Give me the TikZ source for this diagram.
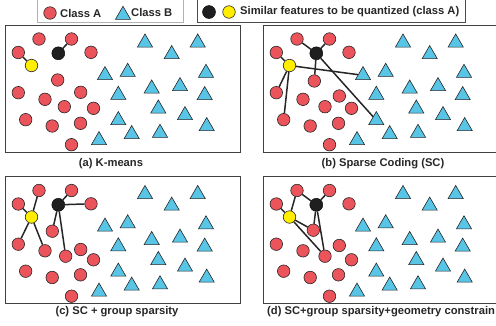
\documentclass[tikz,border=0pt]{standalone}
\usepackage{fontspec}
\setmainfont{Liberation Sans}
\usetikzlibrary{shapes.geometric}
\usepackage{xcolor}

\definecolor{classA}{RGB}{236,84,92}
\definecolor{classB}{RGB}{88,196,230}
\definecolor{quantY}{RGB}{255,238,0}

\tikzset{
  redpt/.style={circle,draw=black!85,fill=classA,minimum size=12.5pt,inner sep=0pt,line width=0.6pt},
  bluept/.style={regular polygon,regular polygon sides=3,draw=black!85,fill=classB,minimum size=17.5pt,inner sep=0pt,line width=0.6pt,yshift=-2pt},
  blackpt/.style={circle,draw=black,fill=black!88,minimum size=13pt,inner sep=0pt},
  yellowpt/.style={circle,draw=black!85,fill=quantY,minimum size=12.5pt,inner sep=0pt,line width=0.6pt},
  link/.style={line width=1.5pt,black!85},
  panel/.style={draw=black!75,line width=0.9pt},
  caption/.style={font=\bfseries\fontsize{11.2}{13}\selectfont,text=black!85}
}

\begin{document}
\begin{tikzpicture}[x=1pt,y=-1pt]
\useasboundingbox (0,0) rectangle (496,325);

% legend
\draw[black!30,line width=0.8pt] (37,-3) rectangle (183,22);
\draw[black!70,line width=0.9pt] (197,-3) rectangle (465,22);
\node[redpt] (legA) at (50,13) {};
\node[caption,right,inner sep=1pt] (legAtxt) at (59,13) {Class A};
\node[bluept] (legB) at (123,13) {};
\node[caption,right,inner sep=1pt] (legBtxt) at (130,12.5) {Class B};
\node[blackpt] (legK) at (209,12) {};
\node[yellowpt] (legY) at (229,12) {};
\node[caption,right,inner sep=1pt] (legQtxt) at (239,12) {Similar features to be quantized (class A)};

% the four panels share the same points
\foreach \pn/\dx/\dy in {a/0/0,b/258/0,c/0/151.5,d/258/151.5}{
  \begin{scope}[shift={(\dx,\dy)}]
    \draw[panel] (5,25) rectangle (240,152);
    \foreach \x/\y/\i in {39/39/1,71.5/39/2,18.3/52.5/3,91/52.3/4,18.3/92.7/6,45/99.3/7,
                          93.5/108.3/10,25.7/119.7/11,52.2/126/12,80.5/123.3/13,71.5/144.7/14}
      \node[redpt] (\pn-r\i) at (\x,\y) {};
    \foreach \x/\y [count=\i] in {145/40.7,197.7/40.7,171.7/52.3,105/73.3,127.7/70,206/71,
                                  151.7/86.7,180/84.3,118.3/93,204.7/93.3,158.3/106.7,185/113.3,
                                  118.3/118.3,206.7/124.3,131.7/132.3,160/131,99/138.3}
      \node[bluept] (\pn-t\i) at (\x,\y) {};
    \node[blackpt] (\pn-k) at (58.3,53.3) {};
    \node[yellowpt] (\pn-y) at (31.5,65.5) {};
  \end{scope}
}

% points that move a little from panel to panel
\node[redpt] (a-r5) at (57.7,80) {};
\node[redpt] (a-r8) at (80.7,92.3) {};
\node[redpt] (a-r9) at (64.3,106.7) {};
\node[redpt] (b-r5) at (314.3,81) {};
\node[redpt] (b-r8) at (339.3,96) {};
\node[redpt] (b-r9) at (325,106.7) {};
\node[redpt] (c-r5) at (52.3,231.2) {};
\node[redpt] (c-r8) at (80.7,249.5) {};
\node[redpt] (c-r9) at (65.7,256.2) {};
\node[redpt] (d-r5) at (313.3,230.2) {};
\node[redpt] (d-r8) at (339.3,245.5) {};
\node[redpt] (d-r9) at (325,256.2) {};

% (a) K-means
\draw[link] (a-k) -- (a-r2);
\draw[link] (a-y) -- (a-r3);
% (b) sparse coding
\foreach \n in {r3,r6,r11,t4} \draw[link] (b-y) -- (b-\n);
\foreach \n in {r1,r2,r5,t13} \draw[link] (b-k) -- (b-\n);
% (c) group sparsity
\foreach \n in {r1,r3,r6,r7} \draw[link] (c-y) -- (c-\n);
\foreach \n in {r2,r4,r5,r9} \draw[link] (c-k) -- (c-\n);
% (d) group sparsity + geometry
\foreach \n in {r1,r3,r5,r9} \draw[link] (d-y) -- (d-\n);
\foreach \n in {r1,r2,r5,r9} \draw[link] (d-k) -- (d-\n);

% captions
\node[caption] (capA) at (111,164) {(a) K-means};
\node[caption] (capB) at (383,164) {(b) Sparse Coding (SC)};
\node[caption] (capC) at (117,312) {(c) SC + group sparsity};
\node[caption,right,inner sep=0pt] (capD) at (267,312) {(d) SC+group sparsity+geometry constrain};

\end{tikzpicture}
\end{document}
